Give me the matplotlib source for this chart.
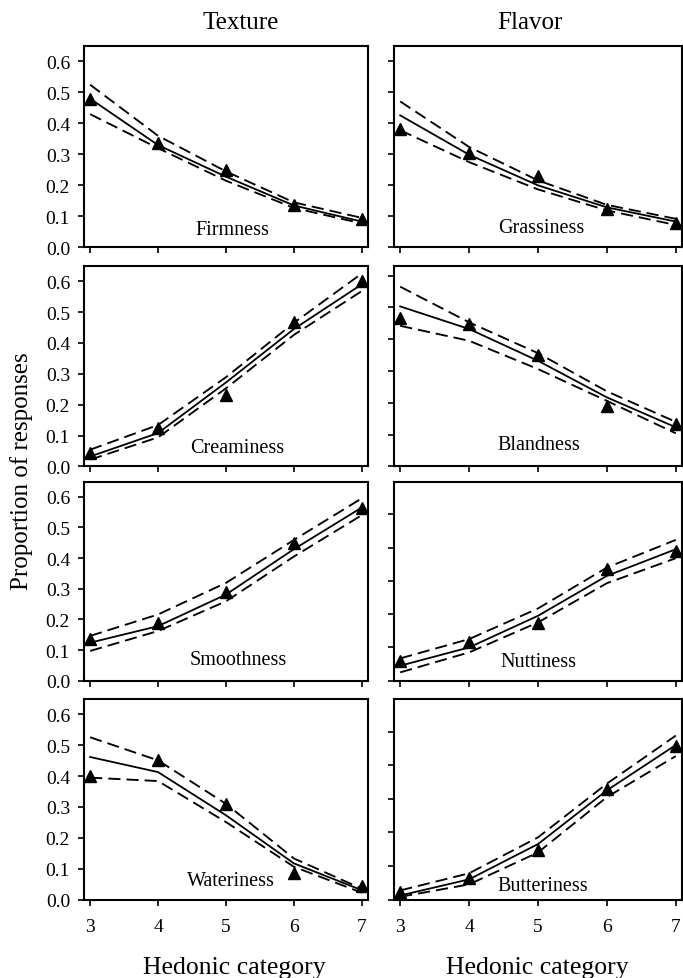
import matplotlib.pyplot as plt

plt.rcParams["font.family"] = ["Liberation Serif", "DejaVu Serif"]

categories = [3, 4, 5, 6, 7]

# observed (triangles), fitted (solid), upper / lower band (dashed)
firm_obs = [0.48, 0.338, 0.248, 0.137, 0.092]
firm_fit = [0.48, 0.33, 0.228, 0.135, 0.083]
firm_hi = [0.525, 0.36, 0.245, 0.145, 0.095]
firm_lo = [0.43, 0.32, 0.215, 0.127, 0.077]

grass_obs = [0.383, 0.305, 0.229, 0.124, 0.079]
grass_fit = [0.426, 0.299, 0.2, 0.129, 0.083]
grass_hi = [0.471, 0.324, 0.216, 0.137, 0.092]
grass_lo = [0.378, 0.275, 0.187, 0.119, 0.072]

cream_obs = [0.043, 0.123, 0.231, 0.469, 0.599]
cream_fit = [0.032, 0.108, 0.272, 0.445, 0.59]
cream_hi = [0.054, 0.134, 0.289, 0.465, 0.625]
cream_lo = [0.022, 0.094, 0.253, 0.426, 0.568]

bland_obs = [0.465, 0.448, 0.351, 0.191, 0.133]
bland_fit = [0.503, 0.432, 0.332, 0.217, 0.123]
bland_hi = [0.565, 0.453, 0.356, 0.236, 0.14]
bland_lo = [0.442, 0.395, 0.306, 0.206, 0.104]

smooth_obs = [0.135, 0.187, 0.289, 0.449, 0.562]
smooth_fit = [0.124, 0.178, 0.281, 0.429, 0.565]
smooth_hi = [0.146, 0.216, 0.319, 0.459, 0.595]
smooth_lo = [0.097, 0.162, 0.259, 0.405, 0.54]

nut_obs = [0.058, 0.115, 0.172, 0.335, 0.39]
nut_fit = [0.045, 0.1, 0.195, 0.315, 0.395]
nut_hi = [0.067, 0.125, 0.217, 0.34, 0.423]
nut_lo = [0.025, 0.085, 0.175, 0.293, 0.368]

water_obs = [0.399, 0.451, 0.311, 0.086, 0.045]
water_fit = [0.462, 0.413, 0.273, 0.117, 0.03]
water_hi = [0.526, 0.451, 0.31, 0.133, 0.035]
water_lo = [0.395, 0.384, 0.251, 0.106, 0.022]

butter_obs = [0.022, 0.065, 0.148, 0.33, 0.458]
butter_fit = [0.012, 0.06, 0.165, 0.325, 0.46]
butter_hi = [0.027, 0.078, 0.185, 0.345, 0.488]
butter_lo = [0.008, 0.045, 0.14, 0.305, 0.427]

panel_names = [
    ["Firmness", "Grassiness"],
    ["Creaminess", "Blandness"],
    ["Smoothness", "Nuttiness"],
    ["Wateriness", "Butteriness"],
]
panel_series = [
    [(firm_obs, firm_fit, firm_hi, firm_lo), (grass_obs, grass_fit, grass_hi, grass_lo)],
    [(cream_obs, cream_fit, cream_hi, cream_lo), (bland_obs, bland_fit, bland_hi, bland_lo)],
    [(smooth_obs, smooth_fit, smooth_hi, smooth_lo), (nut_obs, nut_fit, nut_hi, nut_lo)],
    [(water_obs, water_fit, water_hi, water_lo), (butter_obs, butter_fit, butter_hi, butter_lo)],
]
# the right-hand panels were not drawn on quite the same y scale
panel_ytop = [[0.65, 0.65], [0.65, 0.631], [0.648, 0.597], [0.65, 0.597]]
label_pos = [
    [(5.09, 0.059), (5.05, 0.065)],
    [(5.16, 0.062), (5.01, 0.068)],
    [(5.18, 0.07), (5.0, 0.057)],
    [(5.07, 0.062), (5.07, 0.042)],
]
y_ticks = [0.0, 0.1, 0.2, 0.3, 0.4, 0.5, 0.6]
column_titles = ["Texture", "Flavor"]

W, H = 683, 979
col_px = [(84, 368), (394, 682)]
row_px = [(47, 248.3), (266.7, 467.4), (483, 681.7), (700, 900.5)]

DASH = (0, (6.5, 3.2))


def main():
    fig = plt.figure(figsize=(W / 100, H / 100), dpi=100)
    for r in range(4):
        for c in range(2):
            x0, x1 = col_px[c]
            top, bot = row_px[r]
            ax = fig.add_axes([x0 / W, 1 - bot / H, (x1 - x0) / W, (bot - top) / H])
            obs, fit, hi, lo = panel_series[r][c]
            ax.plot(categories, hi, color="k", lw=1.35, ls=DASH)
            ax.plot(categories, lo, color="k", lw=1.35, ls=DASH)
            ax.plot(categories, fit, color="k", lw=1.3)
            ax.plot(categories, obs, ls="none", marker="^", ms=8.5, color="k",
                    clip_on=False, zorder=5)
            lx, ly = label_pos[r][c]
            ax.text(lx, ly, panel_names[r][c], ha="center", va="center", fontsize=14.5)

            ax.set_xlim(2.91, 7.09)
            ax.set_ylim(0, panel_ytop[r][c])
            ax.set_xticks(categories)
            ax.set_yticks([t for t in y_ticks if t < panel_ytop[r][c]])
            ax.tick_params(direction="out", length=4, width=1.2, labelsize=14)
            ax.tick_params(axis="x", pad=9)
            ax.tick_params(axis="y", pad=6)
            for s in ax.spines.values():
                s.set_linewidth(1.5)
            ax.yaxis.set_major_formatter(plt.FuncFormatter(lambda v, _: f"{v:.1f}"))
            if c == 1:
                ax.tick_params(axis="y", labelleft=False)
            if r < 3:
                ax.tick_params(axis="x", labelbottom=False)

    fig.text(240.8 / W, 1 - 29.3 / H, column_titles[0], ha="center", va="baseline", fontsize=18)
    fig.text(530 / W, 1 - 29.3 / H, column_titles[1], ha="center", va="baseline", fontsize=18)
    fig.text(234 / W, 1 - 974 / H, "Hedonic category", ha="center", va="baseline", fontsize=18.5)
    fig.text(537 / W, 1 - 974 / H, "Hedonic category", ha="center", va="baseline", fontsize=18.5)
    fig.text(22 / W, 1 - 471 / H, "Proportion of responses", rotation=90,
             ha="center", va="center", fontsize=18)

    fig.savefig("out.png", dpi=100)


if __name__ == "__main__":
    main()
